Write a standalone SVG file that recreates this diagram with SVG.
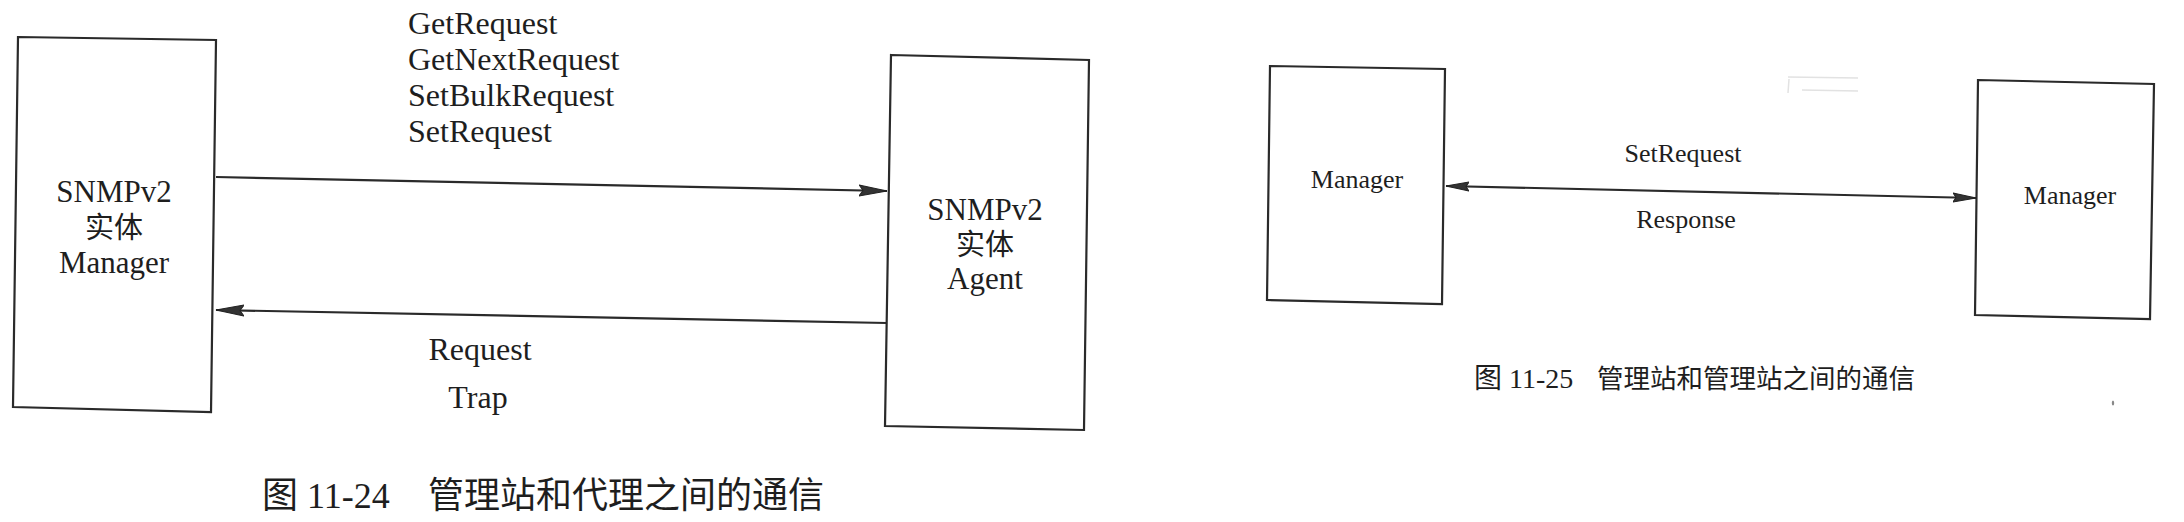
<svg xmlns="http://www.w3.org/2000/svg" width="2184" height="522" viewBox="0 0 2184 522">
<style>
.box{fill:#fff;stroke:#2a2a2a;stroke-width:2.2}
.ln{fill:none;stroke:#2a2a2a;stroke-width:2.2}
.t{font-family:"Liberation Serif","Noto Sans CJK SC",serif;fill:#1e1e1e}
.c{text-anchor:middle}
.f32{font-size:32px}
.f31{font-size:31px}
.f26{font-size:26px}
.cap{font-family:"Liberation Serif","Noto Sans CJK SC",serif;fill:#1e1e1e}
.cjk{font-family:"Noto Sans CJK SC",sans-serif;fill:#1e1e1e}
</style>
<defs>
<marker id="ah" markerUnits="userSpaceOnUse" markerWidth="30" markerHeight="14" refX="28" refY="6" orient="auto-start-reverse" viewBox="0 0 30 12">
<path d="M0,0.5 L28,6 L0,11.5 L4,6 Z" fill="#333" stroke="#222" stroke-width="1"/>
</marker>
<marker id="ahs" markerUnits="userSpaceOnUse" markerWidth="25" markerHeight="12" refX="23" refY="5" orient="auto-start-reverse" viewBox="0 0 25 10">
<path d="M0,0.5 L23,5 L0,9.5 L3,5 Z" fill="#333" stroke="#222" stroke-width="1"/>
</marker>
</defs>
<rect width="2184" height="522" fill="#ffffff"/>

<g id="manager-entity">
<polygon class="box" points="18,37 216,40 211,412 13,407"/>
<text class="t c f31" x="114" y="202">SNMPv2</text>
<text class="t c" font-size="29" x="114" y="238">实体</text>
<text class="t c f31" x="114" y="273">Manager</text>
</g>

<g id="agent-entity">
<polygon class="box" points="891,55 1089,60 1084,430 885,426"/>
<text class="t c f31" x="985" y="220">SNMPv2</text>
<text class="t c" font-size="29" x="985" y="255">实体</text>
<text class="t c f31" x="985" y="289">Agent</text>
</g>

<g id="manager-left">
<polygon class="box" points="1270,66 1445,69 1442,304 1267,300"/>
<text class="t c f26" x="1357" y="188">Manager</text>
</g>

<g id="manager-right">
<polygon class="box" points="1978,80 2154,84 2150,319 1975,315"/>
<text class="t c f26" x="2070" y="204">Manager</text>
</g>

<g id="connectors">
<line class="ln" x1="216" y1="177" x2="887" y2="191" marker-end="url(#ah)"/>
<line class="ln" x1="887" y1="323" x2="216" y2="310" marker-end="url(#ah)"/>
<line class="ln" x1="1446" y1="186" x2="1976" y2="198" marker-start="url(#ahs)" marker-end="url(#ahs)"/>
</g>

<g id="labels">
<text class="t f32" x="408" y="34">GetRequest</text>
<text class="t f32" x="408" y="70">GetNextRequest</text>
<text class="t f32" x="408" y="106">SetBulkRequest</text>
<text class="t f32" x="408" y="142">SetRequest</text>
<text class="t c f32" x="480" y="360">Request</text>
<text class="t c f32" x="478" y="408">Trap</text>
<text class="t c f26" x="1683" y="162">SetRequest</text>
<text class="t c f26" x="1686" y="228">Response</text>
</g>

<g id="captions">
<text class="cap" font-size="36" x="262" y="508">图 11-24</text>
<text class="cjk" font-size="36" x="428" y="508">管理站和代理之间的通信</text>
<text class="cap" font-size="28" x="1474" y="388">图 11-25</text>
<text class="cjk" font-size="26.5" x="1597" y="388">管理站和管理站之间的通信</text>
</g>

<g id="marks" fill="none" stroke="#e2e2e2" stroke-width="1.5">
<path d="M1788,77 L1858,78"/>
<path d="M1802,90 L1858,91"/>
<path d="M1789,79 L1788,93"/>
<ellipse cx="2113" cy="403" rx="1.2" ry="2.5" fill="#888" stroke="none"/>
</g>
</svg>
